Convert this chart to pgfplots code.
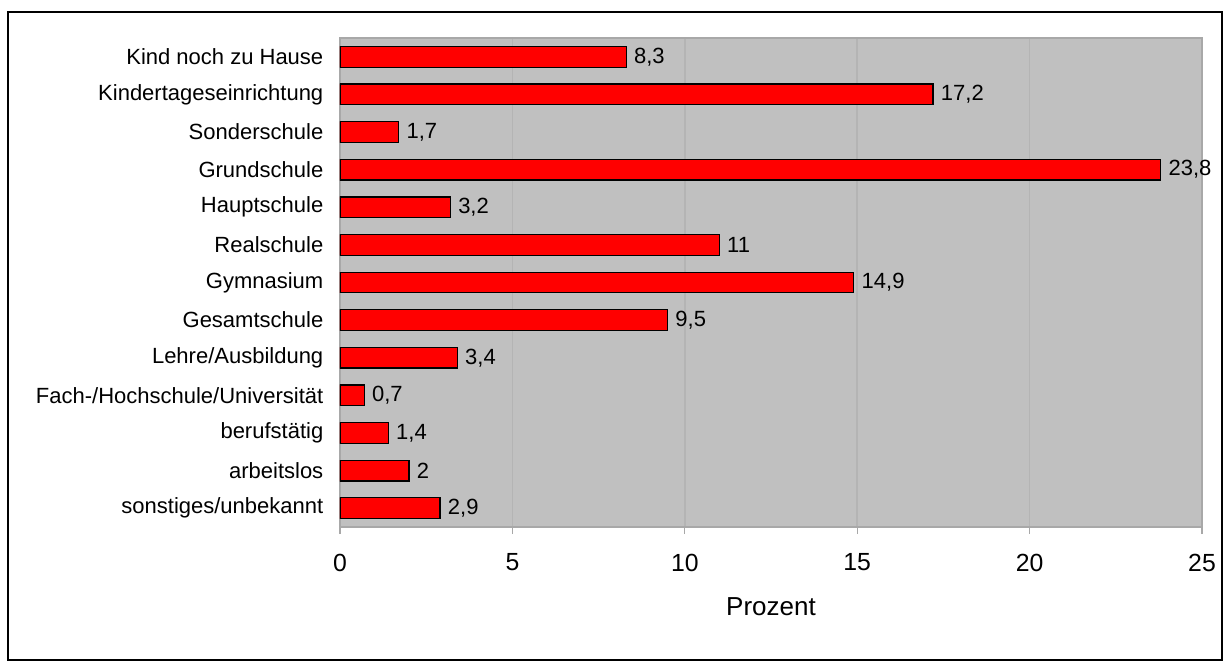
\documentclass[border=0pt]{standalone}
\usepackage{fontspec}
\setmainfont{Liberation Sans}
\usepackage{pgfplots}
\usepackage{pgfplotstable}
\pgfplotsset{compat=1.18}
\definecolor{bg}{HTML}{C0C0C0}
\definecolor{frame}{HTML}{A8A8A8}
\definecolor{gridc}{HTML}{B4B4B4}
\pgfplotstableread{
idx val
0 8.3
1 17.2
2 1.7
3 23.8
4 3.2
5 11
6 14.9
7 9.5
8 3.4
9 0.7
10 1.4
11 2
12 2.9
}\data
\begin{document}
\fontsize{11}{13}\selectfont
\begin{tikzpicture}
\begin{axis}[
  at={(0,0)}, anchor=south west,
  scale only axis, width=431pt, height=244.5pt,
  /pgf/number format/assume math mode=true,
  /pgf/number format/use comma,
  xbar, bar width=10.35pt,
  xmin=0, xmax=25, xtick={0,5,...,25},
  ymin=-0.5, ymax=12.5, y dir=reverse,
  ytick={0,...,12},
  yticklabels={Kind noch zu Hause,Kindertageseinrichtung,Sonderschule,Grundschule,Hauptschule,Realschule,Gymnasium,Gesamtschule,Lehre/Ausbildung,Fach-/Hochschule/Universität,berufstätig,arbeitslos,sonstiges/unbekannt},
  ytick style={draw=none},
  minor ytick={-0.5,0.5,...,12.5},
  minor tick length=3pt,
  major tick length=3.5pt,
  tick align=outside,
  tick pos=left,
  tick style={color=frame, line width=0.6pt},
  axis line style={draw=frame, line width=0.8pt},
  axis background/.style={fill=bg},
  xmajorgrids, major grid style={color=gridc, line width=0.8pt},
  xticklabel style={yshift=-6pt, font=\fontsize{12.4}{14}\selectfont},
  yticklabel style={xshift=-1pt},
  xlabel={Prozent},
  xlabel style={at={(axis description cs:0.5,0)}, anchor=center, yshift=-40pt, font=\fontsize{13}{15}\selectfont},
  nodes near coords,
  point meta=explicit,
  nodes near coords style={anchor=west, xshift=0pt},
]
\addplot[fill=red, draw=black, line width=0.6pt] table[x=val, y=idx, meta=val] {\data};
\end{axis}
\draw[line width=1pt] (-166pt,-66.5pt) rectangle (441pt,257.5pt);
\useasboundingbox (-170pt,-70.5pt) rectangle (445pt,263.5pt);
\end{tikzpicture}
\end{document}
